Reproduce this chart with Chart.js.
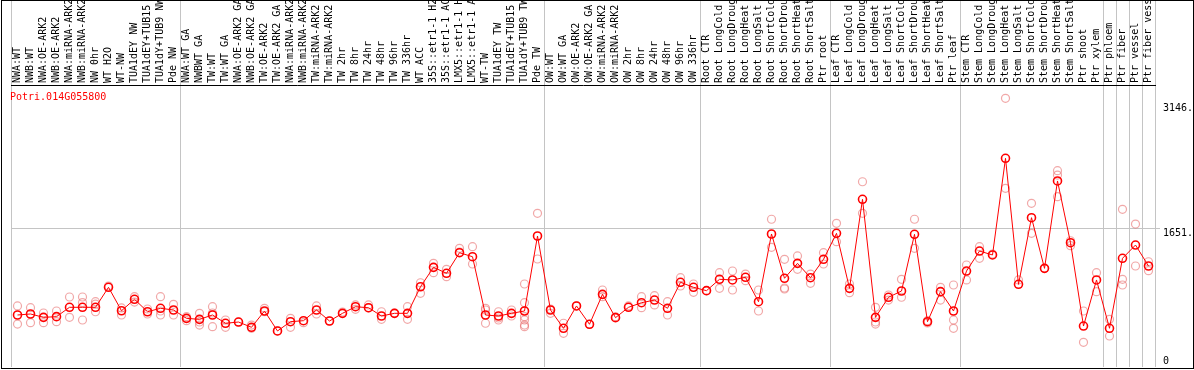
<!DOCTYPE html>
<html>
<head>
<meta charset="utf-8">
<script src="https://cdn.jsdelivr.net/npm/chart.js@4.4.1/dist/chart.umd.min.js"></script>
<style>
    html, body { margin: 0; padding: 0; background: #ffffff; }
    #wrap { width: 1194px; height: 370px; }
</style>
</head>
<body>
<div id="wrap"><canvas id="expressionChart" width="1194" height="370"></canvas></div>
<script>
const geneName = "Potri.014G055800";

const categories = [
    "NWA:WT", "NWB:WT", "NWA:OE-ARK2", "NWB:OE-ARK2", "NWA:miRNA-ARK2", "NWB:miRNA-ARK2",
    "NW 0hr", "WT H2O", "WT-NW", "TUA1dEY NW", "TUA1dEY+TUB15 NW", "TUA1dY+TUB9 NW", "Pde NW",
    "NWA:WT GA", "NWBWT GA", "TW:WT", "TW:WT GA", "NWA:OE-ARK2 GA", "NWB:OE-ARK2 GA",
    "TW:OE-ARK2", "TW:OE-ARK2 GA", "NWA:miRNA-ARK2 GA", "NWB:miRNA-ARK2 GA", "TW:miRNA-ARK2",
    "TW:miRNA-ARK2", "TW 2hr", "TW 8hr", "TW 24hr", "TW 48hr", "TW 96hr", "TW 336hr", "WT ACC",
    "35S::etr1-1 H2O", "35S::etr1-1 ACC", "LMX5::etr1-1 H2O", "LMX5::etr1-1 ACC", "WT-TW",
    "TUA1dEY TW", "TUA1dEY+TUB15 TW", "TUA1dY+TUB9 TW", "Pde TW",
    "OW:WT", "OW:WT GA", "OW:OE-ARK2", "OW:OE-ARK2 GA", "OW:miRNA-ARK2", "OW:miRNA-ARK2",
    "OW 2hr", "OW 8hr", "OW 24hr", "OW 48hr", "OW 96hr", "OW 336hr",
    "Root CTR", "Root LongCold", "Root LongDrought", "Root LongHeat", "Root LongSalt",
    "Root ShortCold", "Root ShortDrought", "Root ShortHeat", "Root ShortSalt", "Ptr root",
    "Leaf CTR", "Leaf LongCold", "Leaf LongDrought", "Leaf LongHeat", "Leaf LongSalt",
    "Leaf ShortCold", "Leaf ShortDrought", "Leaf ShortHeat", "Leaf ShortSalt", "Ptr leaf",
    "Stem CTR", "Stem LongCold", "Stem LongDrought", "Stem LongHeat", "Stem LongSalt",
    "Stem ShortCold", "Stem ShortDrought", "Stem ShortHeat", "Stem ShortSalt", "Ptr shoot",
    "Ptr xylem", "Ptr phloem", "Ptr fiber", "Ptr vessel", "Ptr fiber vessel"
];

// mean expression per sample
const means = [
    622, 634, 594, 602, 714, 714, 714, 953, 673, 810, 661, 702, 682,
    582, 570, 622, 523, 538, 475, 670, 431, 542, 554, 682, 550, 642, 721, 709, 610, 642, 642,
    960, 1192, 1121, 1367, 1319, 622, 610, 642, 670, 1567,
    682, 463, 730, 511, 869, 590, 714, 769, 801, 702, 1013, 953,
    913, 1049, 1041, 1073, 781, 1591, 1061, 1240, 1068, 1288,
    1599, 941, 2006, 594, 834, 909, 1587, 542, 901, 670,
    1148, 1387, 1340, 2496, 989, 1786, 1180, 2225, 1487, 490, 1041,
    463, 1300, 1459, 1208
];

// individual replicates per sample
const replicates = [
    [730, 514], [709, 530], [646, 530], [670, 542], [837, 594], [837, 770, 562],
    [781, 753, 661], [969], [706, 622], [841, 777], [694, 634], [841, 670, 622], [750, 622],
    [602, 554], [642, 538, 502], [721, 646, 482], [562, 475], [538], [502, 463], [702, 661],
    [431], [582, 475], [530], [730, 634], [550], [658], [742, 690], [742, 706], [661, 570],
    [646], [721, 570], [1008, 881], [1240, 1128], [1168, 1080], [1420, 1375], [1439, 1232],
    [702, 682, 523], [661, 586, 562], [682, 610], [993, 769, 602, 562, 502, 482], [1838, 1292],
    [694, 642], [523, 403], [730], [511], [921, 841], [600], [730], [841, 709], [853, 742],
    [781, 622], [1068, 969], [993, 893],
    [913], [1128, 941], [1148, 921], [1112, 1032], [921, 670], [1767, 1432], [1288, 945, 933],
    [1328, 1168], [1112, 1001], [1367, 1232],
    [1719, 1499], [993, 889], [2216, 1838], [714, 538, 514], [861, 801], [1049, 834],
    [1767, 1420], [554, 526], [953, 801], [981, 562, 463],
    [1220, 1041], [1439, 1300], [1351], [3214, 2137], [1041], [1958, 1599], [1180],
    [2348, 2296, 2037], [1510, 1451], [670, 295], [1128, 901],
    [570, 371], [1886, 1049, 981], [1710, 1208], [1259, 1152]
];

const yTicks = [0, 1651, 3146];
const yMax = 3373;
// grid lines drawn at the left edge of these sample indexes
const groupStarts = [0, 13, 41, 53, 63, 73, 84, 85, 86, 87, 88];

const meanPoints = means.map((v, i) => ({ x: i, y: v }));
const replicatePoints = [];
replicates.forEach((vals, i) => {
    vals.forEach(v => replicatePoints.push({ x: i, y: v }));
});

const gridGrey = "#c4c4c4";
const monoFont = "'DejaVu Sans Mono', 'Liberation Mono', monospace";

const frameAndTitle = {
    id: "frameAndTitle",
    afterDraw(chart) {
        const ctx = chart.ctx;
        const area = chart.chartArea;
        ctx.save();
        ctx.fillStyle = "#ff0000";
        ctx.font = "10px " + monoFont;
        ctx.textBaseline = "middle";
        ctx.textAlign = "left";
        ctx.fillText(geneName, area.left - 1, area.top + 12);
        ctx.strokeStyle = "#000000";
        ctx.lineWidth = 1;
        ctx.strokeRect(1.5, 0.5, 1192, 368);
        ctx.restore();
    }
};

function noLabelPadding(axis) {
    axis.paddingTop = 0;
    axis.paddingBottom = 0;
    axis.paddingLeft = 0;
    axis.paddingRight = 0;
}

new Chart(document.getElementById("expressionChart"), {
    type: "line",
    data: {
        datasets: [
            {
                label: "mean",
                data: meanPoints,
                borderColor: "#ff0000",
                borderWidth: 1,
                pointRadius: 4,
                pointBorderWidth: 1.6,
                pointBorderColor: "#ff0000",
                pointBackgroundColor: "rgba(255,255,255,0)",
                tension: 0
            },
            {
                label: "replicates",
                data: replicatePoints,
                showLine: false,
                pointRadius: 4,
                pointBorderWidth: 1.2,
                pointBorderColor: "rgba(232,110,110,0.6)",
                pointBackgroundColor: "rgba(255,255,255,0)"
            }
        ]
    },
    options: {
        responsive: false,
        animation: false,
        events: [],
        layout: { autoPadding: false, padding: { left: 11, right: 0, top: 0, bottom: 3 } },
        plugins: {
            legend: { display: false },
            tooltip: { enabled: false }
        },
        scales: {
            x: {
                type: "linear",
                position: "top",
                min: -0.5,
                max: categories.length - 0.5,
                afterBuildTicks: axis => {
                    axis.ticks = categories.map((_, i) => ({ value: i }));
                },
                afterFit: axis => {
                    axis.height = 85;
                    noLabelPadding(axis);
                },
                grid: {
                    offset: true,
                    drawTicks: true,
                    tickLength: 85,
                    lineWidth: 1,
                    color: ctx => (ctx.index === undefined || groupStarts.includes(ctx.index)) ? gridGrey : "rgba(0,0,0,0)"
                },
                border: { display: true, color: "#000000", width: 1 },
                ticks: {
                    autoSkip: false,
                    minRotation: 90,
                    maxRotation: 90,
                    padding: -83,
                    labelOffset: 12,
                    color: "#000000",
                    font: { family: monoFont, size: 10 },
                    callback: value => categories[value]
                }
            },
            y: {
                type: "linear",
                position: "right",
                min: 0,
                max: yMax,
                afterBuildTicks: axis => {
                    axis.ticks = yTicks.map(v => ({ value: v }));
                },
                afterFit: axis => {
                    axis.width = 39;
                    noLabelPadding(axis);
                },
                grid: {
                    tickLength: 5,
                    color: ctx => (ctx.tick && ctx.tick.value === 1651) ? gridGrey : "rgba(0,0,0,0)"
                },
                border: { display: false },
                ticks: {
                    padding: 3,
                    labelOffset: 4,
                    color: "#000000",
                    font: { family: monoFont, size: 10, lineHeight: 1.9 },
                    callback: value => value === 0 ? ["0", ""] : value + "."
                }
            }
        }
    },
    plugins: [frameAndTitle]
});
</script>
</body>
</html>
